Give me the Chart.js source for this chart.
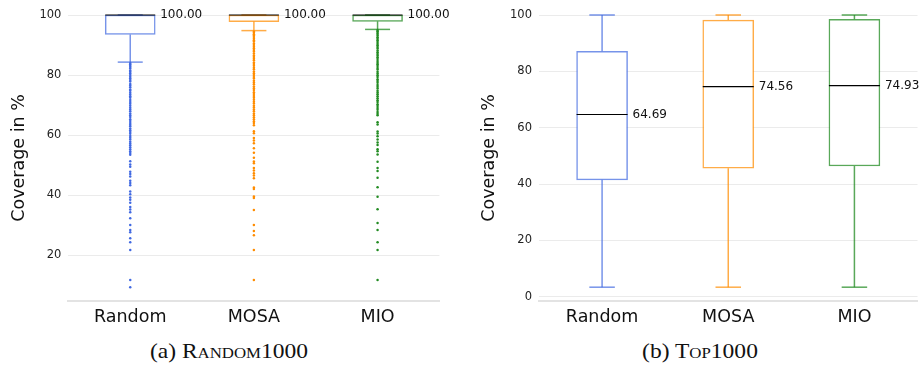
<!DOCTYPE html>
<html>
<head>
<meta charset="utf-8">
<script src="https://cdn.jsdelivr.net/npm/chart.js@4.4.0/dist/chart.umd.min.js"></script>
<style>
body { margin: 0; background: #fff; width: 919px; height: 367px; position: relative; overflow: hidden; }
canvas { position: absolute; top: 0; }
#chartA { left: 0; }
#chartB { left: 460px; }
.cap { position: absolute; top: 338px; font-family: "Liberation Serif", serif; font-size: 21px;
       color: #111; white-space: nowrap; transform: translateX(-50%) scaleX(1.12); line-height: 26px; }
.sc { font-variant: small-caps; }
</style>
</head>
<body>
<canvas id="chartA" width="460" height="330"></canvas>
<canvas id="chartB" width="459" height="330"></canvas>
<div class="cap" style="left:229px">(a) R<span class="sc">andom</span>1000</div>
<div class="cap" style="left:700px">(b) T<span class="sc">op</span>1000</div>
<script>
const methods = ['Random', 'MOSA', 'MIO'];
const yTicksA = [20, 40, 60, 80, 100];
const yTicksB = [0, 20, 40, 60, 80, 100];

// (a) Random1000 - box stats per method
const lowA = [84.3, 94.8, 95.2];
const q1A = [93.5, 97.8, 97.9];
const medA = [100, 100, 100];
const q3A = [100, 100, 100];
const highA = [100, 100, 100];

// (a) outliers
const outRandomA = [84.0, 83.6, 83.1, 82.7, 82.2, 81.5, 81.1, 80.6, 80.0, 79.4, 78.9, 78.3, 77.8, 77.0, 76.5, 75.9,
  75.2, 74.8, 74.1, 73.5, 72.9, 72.4, 71.7, 71.0, 70.4, 69.8, 69.1, 68.5, 67.9, 67.2, 66.6, 66.0, 65.3, 64.7, 64.0,
  63.4, 62.9, 62.2, 61.6, 61.0, 60.4, 59.7, 59.1, 58.5, 57.8, 57.2, 56.6, 55.9, 55.3, 54.6, 54.0, 53.4,
  51.3, 50.2, 49.4, 47.8, 47.0, 46.2, 44.8, 44.0, 43.3, 41.2, 40.3, 39.2, 38.4, 37.4, 36.0, 35.2, 34.3, 32.3,
  30.0, 28.4, 27.6, 25.6, 24.3, 21.7, 11.7, 9.3];
const outMosaA = [94.5, 94.1, 93.6, 93.2, 92.7, 92.1, 91.6, 91.2, 90.5, 90.0, 89.4, 88.9, 88.3, 87.8, 87.2, 86.5,
  86.0, 85.4, 84.9, 84.2, 83.7, 83.1, 82.4, 81.9, 81.2, 80.6, 80.0, 79.3, 78.8, 78.1, 77.5, 76.9, 76.2, 75.6, 75.0,
  74.3, 73.7, 73.0, 72.4, 71.8, 71.1, 70.5, 69.8, 69.2, 68.5, 67.9, 67.2, 66.6, 65.9, 65.3, 64.6, 64.0, 63.3,
  61.3, 60.6, 59.0, 58.2, 57.3, 55.6, 54.1, 52.4, 51.2, 50.6, 49.0, 48.2, 47.3, 46.5, 45.6, 42.5, 42.0, 39.5,
  39.0, 35.0, 30.0, 28.0, 26.6, 21.7, 11.7];
const outMioA = [95.0, 94.6, 94.1, 93.7, 93.2, 92.6, 92.1, 91.6, 91.0, 90.4, 89.9, 89.3, 88.8, 88.2, 87.6, 87.0,
  86.5, 85.9, 85.3, 84.7, 84.1, 83.6, 83.0, 82.3, 81.8, 81.1, 80.5, 79.9, 79.3, 78.6, 78.0, 77.4, 76.7, 76.1, 75.5,
  74.8, 74.2, 73.6, 72.9, 72.3, 71.6, 71.0, 70.3, 69.7, 69.0, 68.4, 67.7, 67.1, 66.6,
  64.3, 63.5, 61.2, 60.5, 59.6, 58.5, 57.5, 56.7, 55.3, 54.6, 53.5, 51.1, 49.0, 48.0, 45.8, 42.6, 39.4, 35.3,
  30.7, 28.4, 24.3, 21.7, 11.7];

// (b) Top1000 - box stats per method
const lowB = [3.4, 3.4, 3.4];
const q1B = [41.5, 45.6, 46.4];
const medB = [64.69, 74.56, 74.93];
const q3B = [87.1, 98.2, 98.5];
const highB = [100, 100, 100];

const colors = ['#4169E1', '#FF8C00', '#228B22'];
const edgeColors = ['rgba(65,105,225,0.72)', 'rgba(255,140,0,0.72)', 'rgba(34,139,34,0.75)'];

// whiskers, caps, medians and median labels, placed through the chart scales
function boxExtras(low, med, high, q1, q3, boxW) {
  return {
    id: 'boxExtras',
    afterDatasetsDraw(chart) {
      const ctx = chart.ctx;
      const x = chart.scales.x, y = chart.scales.y;
      const seg = (x1, y1, x2, y2) => { ctx.beginPath(); ctx.moveTo(x1, y1); ctx.lineTo(x2, y2); ctx.stroke(); };
      ctx.save();
      for (let i = 0; i < methods.length; i++) {
        const cx = x.getPixelForValue(i);
        const half = boxW / 2, cap = boxW / 4;
        const yl = y.getPixelForValue(low[i]), yh = y.getPixelForValue(high[i]);
        const y1 = y.getPixelForValue(q1[i]), y3 = y.getPixelForValue(q3[i]);
        const ym = y.getPixelForValue(med[i]);
        ctx.strokeStyle = edgeColors[i];
        ctx.lineWidth = 1.5;
        seg(cx, yh, cx, y3);
        seg(cx, y1, cx, yl);
        seg(cx - cap, yh, cx + cap, yh);
        seg(cx - cap, yl, cx + cap, yl);
        ctx.strokeStyle = '#000';
        ctx.lineWidth = 1.2;
        seg(cx - half, ym, cx + half, ym);
        ctx.fillStyle = '#111';
        ctx.font = '12px "DejaVu Sans"';
        ctx.textBaseline = 'middle';
        ctx.textAlign = 'left';
        ctx.fillText(med[i].toFixed(2), cx + half + 5, ym);
      }
      ctx.restore();
    }
  };
}

function makeChart(id, q1, q3, outliers, yMin, yTicks, axisW, titlePad, boxW, padRight, plugin) {
  const datasets = [{
    type: 'bar',
    data: methods.map((m, i) => [q1[i], q3[i]]),
    backgroundColor: '#fff',
    borderColor: edgeColors,
    borderWidth: 1.5,
    borderSkipped: false,
    barThickness: boxW,
    grouped: false,
    order: 1
  }];
  outliers.forEach((vals, k) => {
    datasets.push({
      type: 'scatter',
      data: vals.map(v => ({ x: methods[k], y: v })),
      pointRadius: 1.25,
      pointBorderWidth: 0,
      pointBackgroundColor: colors[k],
      order: 2
    });
  });
  return new Chart(document.getElementById(id), {
    type: 'bar',
    data: { labels: methods, datasets: datasets },
    options: {
      responsive: false,
      animation: false,
      devicePixelRatio: 1,
      layout: { padding: { left: 0, top: 15, right: padRight, bottom: 0 } },
      plugins: { legend: { display: false }, tooltip: { enabled: false } },
      scales: {
        x: {
          type: 'category',
          offset: true,
          grid: { display: false },
          border: { display: true, color: '#e3e3e3', width: 2 },
          ticks: { padding: -2, color: '#111', font: { family: 'DejaVu Sans', size: 17.5 } },
          afterFit: s => { s.height = 29; }
        },
        y: {
          min: yMin,
          max: 100,
          afterBuildTicks: s => { s.ticks = yTicks.map(v => ({ value: v })); },
          afterFit: s => { s.width = axisW; },
          grid: { color: '#ebebeb', lineWidth: 1, drawTicks: false },
          border: { display: false },
          ticks: { padding: 7, color: '#222', font: { family: 'DejaVu Sans', size: 11.5 } },
          title: {
            display: true, text: 'Coverage in %', color: '#111',
            font: { family: 'DejaVu Sans', size: 17.5 },
            padding: { top: titlePad, bottom: 0 }
          }
        }
      }
    },
    plugins: [plugin]
  });
}

makeChart('chartA', q1A, q3A, [outRandomA, outMosaA, outMioA], 4.7, yTicksA, 68.4, 8.5, 50, 20.6,
  boxExtras(lowA, medA, highA, q1A, q3A, 50));
makeChart('chartB', q1B, q3B, [[], [], []], -1.5, yTicksB, 79, 18.5, 51, 1.5,
  boxExtras(lowB, medB, highB, q1B, q3B, 51));
</script>
</body>
</html>
